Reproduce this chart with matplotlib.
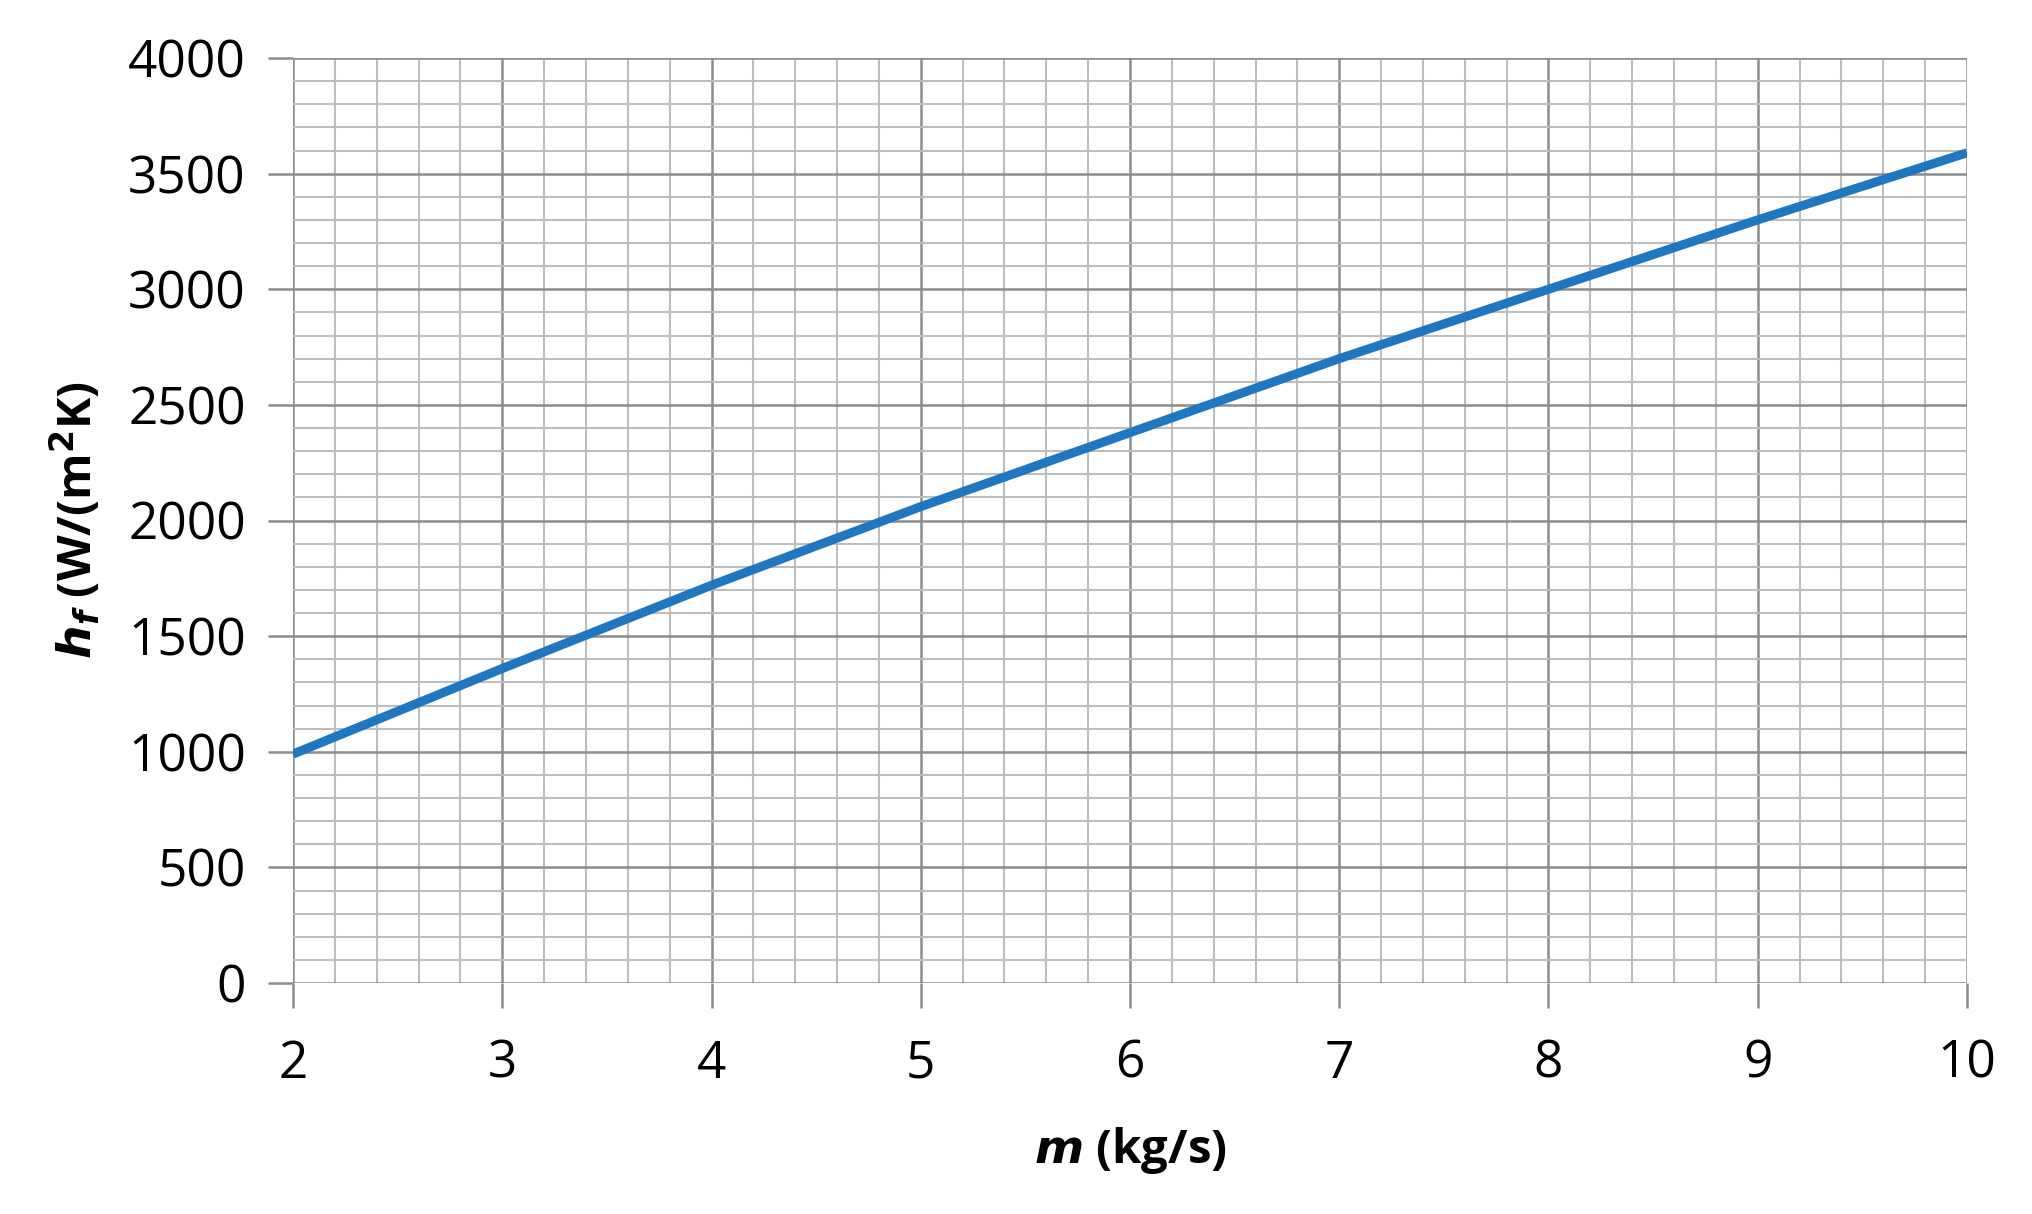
import numpy as np
import matplotlib.pyplot as plt
from matplotlib.ticker import MultipleLocator

m = [2, 3, 4, 5, 6, 7, 8, 9, 10]
hf = [990, 1360, 1720, 2060, 2380, 2700, 3000, 3300, 3590]

plt.rcParams['font.family'] = ['Open Sans', 'DejaVu Sans']
fig = plt.figure(figsize=(20.33, 12.14), dpi=100)
ax = fig.add_axes([293/2033, 1 - 983/1214, (1967-293)/2033, (983-58)/1214])

ax.plot(m, hf, color='#1F77C0', linewidth=6.5, solid_capstyle='butt', zorder=3)

ax.set_xlim(2, 10)
ax.set_ylim(0, 4000)
ax.xaxis.set_major_locator(MultipleLocator(1))
ax.xaxis.set_minor_locator(MultipleLocator(0.2))
ax.yaxis.set_major_locator(MultipleLocator(500))
ax.yaxis.set_minor_locator(MultipleLocator(100))
ax.grid(which='major', color='#8c8c8c', linewidth=1.8)
ax.grid(which='minor', color='#bdbdbd', linewidth=1.5)
ax.set_axisbelow(True)
for s in ax.spines.values():
    s.set_visible(False)
ax.tick_params(which='major', length=18, width=1.8, color='#8c8c8c', labelsize=37, pad=16)
ax.tick_params(axis='x', which='major', pad=22)
ax.tick_params(which='minor', length=0)

fig.text((293+1967)/2/2033, 1 - 1150/1214, r'$\mathbfit{m}$ (kg/s)', fontsize=34,
         fontweight='bold', ha='center', va='center')
ax.set_ylabel(r'$\mathbfit{h}_{\mathbfit{f}}$ (W/(m$^\mathbf{2}$K)', fontsize=34,
              fontweight='bold', labelpad=18)

fig.savefig('out.png', dpi=100)
